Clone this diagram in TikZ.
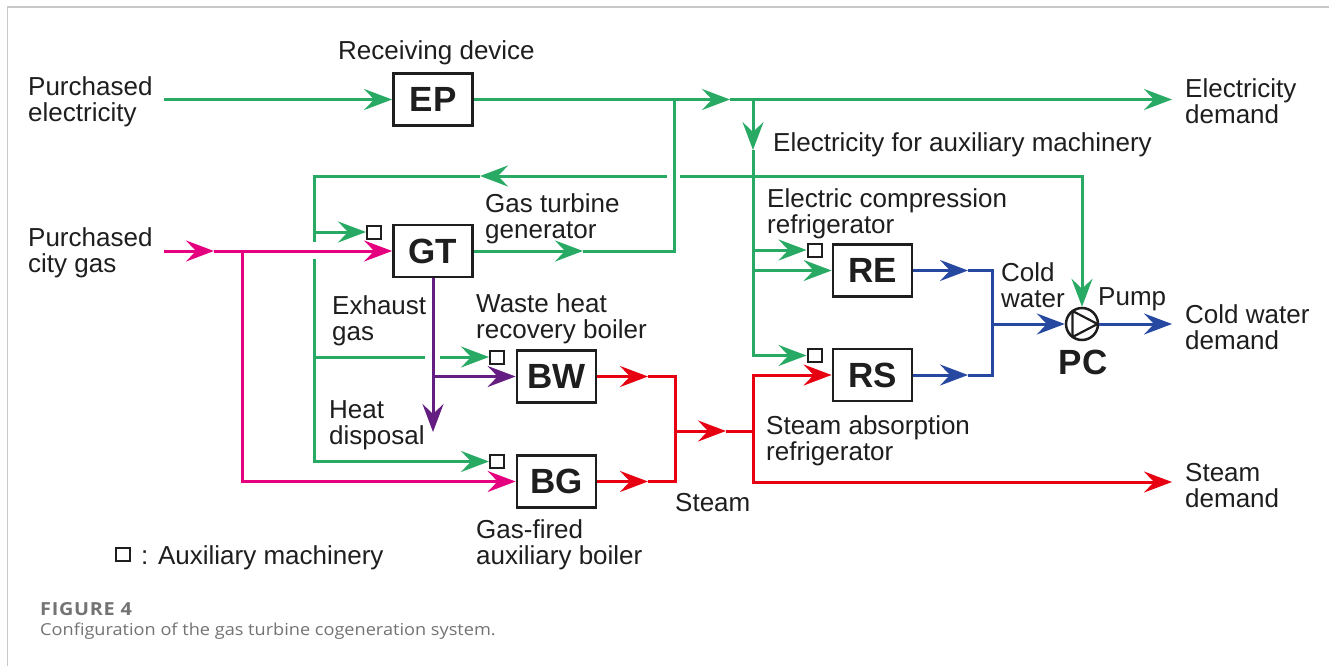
\documentclass[tikz,border=0pt]{standalone}
\usepackage{fontspec}
\setmainfont{Liberation Sans}
\newfontfamily\capfont[FakeStretch=1.1]{Open Sans}
\newfontfamily\capfontwide[FakeStretch=1.1,LetterSpace=4]{Open Sans}
\usetikzlibrary{arrows.meta,calc}
\definecolor{cgreen}{RGB}{40,170,100}
\definecolor{cpink}{RGB}{228,0,127}
\definecolor{cpurple}{RGB}{100,30,130}
\definecolor{cred}{RGB}{230,0,18}
\definecolor{cblue}{RGB}{38,72,160}
\definecolor{capgray}{RGB}{115,115,115}
\definecolor{framegray}{RGB}{200,200,200}
\definecolor{ink}{RGB}{30,30,30}
\begin{document}
\begin{tikzpicture}[x=1pt,y=-1pt,
  flow/.style={line width=3pt},
  arr/.style={flow,-{Stealth[length=28pt,width=21pt,inset=10pt]}},
  unit/.style={draw=ink,text=ink,line width=2.8pt,minimum width=79pt,minimum height=52pt,inner sep=0pt,font=\fontsize{35}{36}\selectfont\bfseries},
  auxbox/.style={draw=ink,line width=2pt,minimum width=14pt,minimum height=13pt,inner sep=0pt},
  lbl/.style={anchor=north west,inner sep=0pt,align=left,text=ink,font=\fontsize{26}{26}\selectfont}]
\useasboundingbox (0,0) rectangle (1329,666);
\fill[white] (0,0) rectangle (1329,666);
\draw[framegray,line width=1.2pt] (1329,7) -- (7.5,7) -- (7.5,666);

% units
\node[unit] (EP) at (433,99.5) {EP};
\node[unit] (GT) at (433,251) {GT};
\node[unit] (BW) at (556.5,376.5) {BW};
\node[unit] (BG) at (556.5,481.5) {BG};
\node[unit] (RE) at (872.5,270.5) {RE};
\node[unit] (RS) at (872.5,375) {RS};
\node[auxbox] (GTa) at (374,232) {};
\node[auxbox] (BWa) at (497,357) {};
\node[auxbox] (BGa) at (497,461.5) {};
\node[auxbox] (REa) at (814.5,250) {};
\node[auxbox] (RSa) at (814.5,355.5) {};
\node[auxbox] (leg) at (122.5,554.5) {};
\node[circle,draw=ink,line width=2.5pt,minimum size=32pt,inner sep=0pt] (PC) at (1082,324) {};
\draw[ink,line width=2.2pt,line join=round] ([shift={(-9.5,-13)}]PC.center) -- ([shift={(-9.5,13)}]PC.center) -- ([shift={(15.5,0)}]PC.center) -- cycle;
\node[text=ink,font=\fontsize{35}{36}\selectfont\bfseries] (PCl) at (1083,362.5) {PC};

% labels
\node[lbl] (rd) at (338,40) {Receiving device};
\node[lbl] (pel) at (28,76) {Purchased\\electricity};
\node[lbl] (pcgl) at (28,227) {Purchased\\city gas};
\node[lbl] (gtg) at (485,193) {Gas turbine\\generator};
\node[lbl] (edl) at (1185,78) {Electricity\\demand};
\node[lbl] (eam) at (773,132) {Electricity for auxiliary machinery};
\node[lbl] (ecr) at (767,188) {Electric compression\\refrigerator};
\node[lbl] (cwl) at (1001,262) {Cold\\water};
\node[lbl] (pml) at (1098,287) {Pump};
\node[lbl] (cwd) at (1185,304) {Cold water\\demand};
\node[lbl] (sar) at (766,415) {Steam absorption\\refrigerator};
\node[lbl] (sdl) at (1185,463) {Steam\\demand};
\node[lbl] (stl) at (675,493) {Steam};
\node[lbl] (exg) at (332,295) {Exhaust\\gas};
\node[lbl] (whr) at (476,293) {Waste heat\\recovery boiler};
\node[lbl] (hdl) at (329,400) {Heat\\disposal};
\node[lbl] (gfb) at (476,519) {Gas-fired\\auxiliary boiler};
\node[lbl] (legt) at (141,545) {: Auxiliary machinery};

% caption
\node[anchor=north west,inner sep=0pt,font=\capfontwide\fontsize{18}{20}\selectfont\bfseries,text=capgray] (fig) at (40,602) {FIGURE 4};
\node[anchor=north west,inner sep=0pt,font=\capfont\fontsize{16.5}{20}\selectfont,text=capgray] (cap) at (40,623) {Configuration of the gas turbine cogeneration system.};

% coordinates
\coordinate (pe) at (164,99.5);
\coordinate (tTop) at (730,99.5);
\coordinate (ed) at (1172,99.5);
\coordinate (j674) at (674,99.5);
\coordinate (j753) at (753,99.5);
\coordinate (tGT) at (583,251);
\coordinate (tAux) at (753,150);
\coordinate (h753) at (753,176);
\coordinate (gapR) at (680,176);
\coordinate (gapL) at (667,176);
\coordinate (tLeft) at (480,176);
\coordinate (c314) at (314,176);
\coordinate (g314a) at (314,242);
\coordinate (g314b) at (314,259);
\coordinate (gapBWl) at (425,357);
\coordinate (gapBWr) at (440,357);
\coordinate (pcs) at (164,251);
\coordinate (tPink) at (214,251);
\coordinate (j242) at (242,251);
\coordinate (hd) at (433,432);
\coordinate (tBW) at (648,376.5);
\coordinate (tBG) at (648,481.5);
\coordinate (s675) at (675,431);
\coordinate (tSt) at (726,431);
\coordinate (s753) at (753,431);
\coordinate (sdem) at (1172,482);
\coordinate (tRE) at (968,270.5);
\coordinate (tRS) at (968,375);
\coordinate (b992) at (992,324);
\coordinate (cdem) at (1172,324);

% green: electricity
\draw[arr,cgreen] (pe) -- (EP.west);
\draw[arr,cgreen] (EP.east) -- (tTop);
\draw[arr,cgreen] (tTop) -- (ed);
\draw[arr,cgreen] (GT.east) -- (tGT);
\draw[flow,cgreen] (tGT) -| (j674);
\draw[arr,cgreen] (j753) -- (tAux);
\draw[arr,cgreen] (tAux) |- (RSa.west);
\draw[arr,cgreen] (REa.west -| j753) -- (REa.west);
\draw[arr,cgreen] (RE.west -| j753) -- (RE.west);
\draw[arr,cgreen] (h753) -| (PC.north);
\draw[flow,cgreen] (h753) -- (gapR);
\draw[arr,cgreen] (gapL) -- (tLeft);
\draw[flow,cgreen] (tLeft) -- (c314) -- (g314a);
\draw[arr,cgreen] (g314b) |- (BGa.west);
\draw[arr,cgreen] (GTa.west -| c314) -- (GTa.west);
\draw[flow,cgreen] (BWa.west -| c314) -- (gapBWl);
\draw[arr,cgreen] (gapBWr) -- (BWa.west);

% pink: city gas
\draw[arr,cpink] (pcs) -- (tPink);
\draw[arr,cpink] (tPink) -- (GT.west);
\draw[arr,cpink] (j242) |- (BG.west);

% purple: exhaust gas
\draw[arr,cpurple] (GT.south) -- (hd);
\draw[arr,cpurple] (BW.west -| GT.south) -- (BW.west);

% red: steam
\draw[arr,cred] (BW.east) -- (tBW);
\draw[arr,cred] (BG.east) -- (tBG);
\draw[flow,cred] (tBW) -| (s675) |- (tBG);
\draw[arr,cred] (s675) -- (tSt);
\draw[flow,cred] (tSt) -- (s753);
\draw[arr,cred] (s753) |- (RS.west);
\draw[arr,cred] (s753) |- (sdem);

% blue: cold water
\draw[arr,cblue] (RE.east) -- (tRE);
\draw[arr,cblue] (RS.east) -- (tRS);
\draw[flow,cblue] (tRE) -| (b992) |- (tRS);
\draw[arr,cblue] (b992) -- (PC.west);
\draw[arr,cblue] (PC.east) -- (cdem);
\end{tikzpicture}
\end{document}
